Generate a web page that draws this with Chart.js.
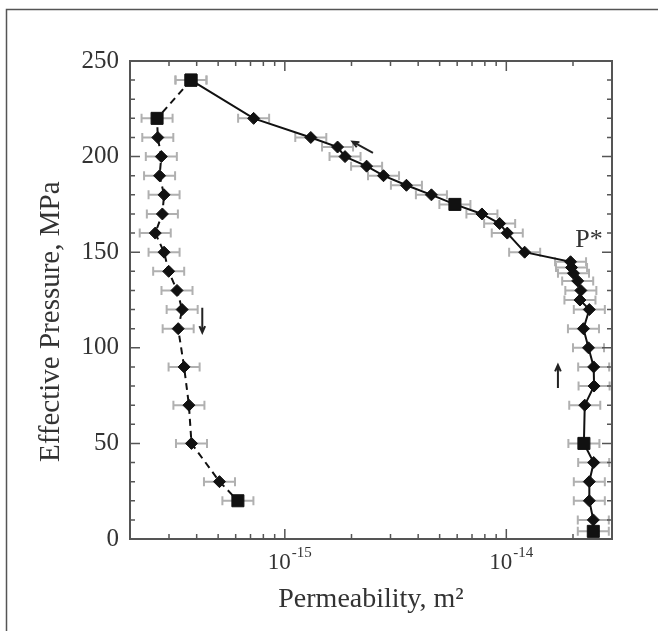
<!DOCTYPE html>
<html>
<head>
<meta charset="utf-8">
<script src="https://cdn.jsdelivr.net/npm/chart.js@4/dist/chart.umd.min.js"></script>
<style>
  body { margin: 0; background: #fff; }
  canvas { display: block; }
</style>
</head>
<body>
<canvas id="permChart" width="658" height="631"></canvas>
<script>
// loading path (solid line), pressure in MPa and permeability in m^2
const loadPressure = [4, 10, 20, 30, 40, 50, 70, 80, 90, 100, 110, 120, 125, 130, 135, 139, 142, 145,
    150, 160, 165, 170, 175, 180, 185, 190, 195, 200, 205, 210, 220, 240];
const loadPerm = [2.47e-14, 2.47e-14, 2.37e-14, 2.37e-14, 2.48e-14, 2.24e-14, 2.26e-14, 2.49e-14, 2.48e-14,
    2.35e-14, 2.23e-14, 2.37e-14, 2.15e-14, 2.17e-14, 2.10e-14, 2.01e-14, 1.97e-14, 1.95e-14,
    1.21e-14, 1.01e-14, 9.33e-15, 7.76e-15, 5.86e-15, 4.59e-15, 3.54e-15, 2.79e-15, 2.34e-15,
    1.87e-15, 1.73e-15, 1.31e-15, 7.23e-16, 3.77e-16];
const loadSquares = [4, 50, 175, 240];

// unloading path (dashed line)
const unloadPressure = [240, 220, 210, 200, 190, 180, 170, 160, 150, 140, 130, 120, 110, 90, 70, 50, 30, 20];
const unloadPerm = [3.77e-16, 2.65e-16, 2.67e-16, 2.77e-16, 2.72e-16, 2.85e-16, 2.80e-16, 2.60e-16, 2.85e-16,
    2.99e-16, 3.26e-16, 3.44e-16, 3.30e-16, 3.51e-16, 3.69e-16, 3.79e-16, 5.07e-16, 6.14e-16];
const unloadSquares = [240, 220, 20];

// error bars are a constant factor on permeability
const errFactor = 1.175;

const yTicks = [0, 50, 100, 150, 200, 250];
const xDecadeLabels = [-15, -14];

const serif = "'Liberation Serif', 'DejaVu Serif', serif";
const textColor = '#333';

function toPoints(pressure, perm) {
    return pressure.map((p, i) => ({ x: perm[i], y: p }));
}

// arrows: [x tail, y tail, x tip, y tip] in data units
const arrows = [
    [4.24e-16, 121, 4.24e-16, 108],
    [1.71e-14, 79, 1.71e-14, 91],
    [2.5e-15, 202, 2.02e-15, 207.8]
];

const decorations = {
    id: 'decorations',
    beforeDraw(chart) {
        const ctx = chart.ctx;
        ctx.save();
        ctx.strokeStyle = '#555';
        ctx.lineWidth = 1.5;
        ctx.strokeRect(6.5, 9.5, 800, 800);
        ctx.restore();
    },
    beforeDatasetsDraw(chart) {
        const { ctx, scales: { x, y } } = chart;
        ctx.save();
        ctx.strokeStyle = '#b0b0b0';
        ctx.lineWidth = 2;
        chart.data.datasets.forEach(ds => {
            ds.data.forEach(pt => {
                const x0 = x.getPixelForValue(pt.x / errFactor);
                const x1 = x.getPixelForValue(pt.x * errFactor);
                const py = y.getPixelForValue(pt.y);
                ctx.beginPath();
                ctx.moveTo(x0, py); ctx.lineTo(x1, py);
                ctx.moveTo(x0, py - 4.5); ctx.lineTo(x0, py + 4.5);
                ctx.moveTo(x1, py - 4.5); ctx.lineTo(x1, py + 4.5);
                ctx.stroke();
            });
        });
        ctx.restore();
    },
    afterDraw(chart) {
        const { ctx, chartArea, scales: { x, y } } = chart;
        const { left, right, top, bottom } = chartArea;
        ctx.save();
        // box
        ctx.strokeStyle = '#555';
        ctx.lineWidth = 2;
        ctx.strokeRect(left, top, right - left, bottom - top);

        // inward ticks
        ctx.lineWidth = 1.5;
        ctx.beginPath();
        for (let v = 0; v <= 250; v += 10) {
            const py = y.getPixelForValue(v);
            const len = v % 50 === 0 ? 10 : 5;
            ctx.moveTo(left, py); ctx.lineTo(left + len, py);
            ctx.moveTo(right, py); ctx.lineTo(right - len, py);
        }
        for (let d = -16; d <= -14; d++) {
            for (let m = 1; m <= 9; m++) {
                const v = m * Math.pow(10, d);
                if (v < x.min * 1.001 || v > x.max * 0.999) continue;
                const px = x.getPixelForValue(v);
                const len = m === 1 ? 10 : 5;
                ctx.moveTo(px, bottom); ctx.lineTo(px, bottom - len);
                ctx.moveTo(px, top); ctx.lineTo(px, top + len);
            }
        }
        ctx.stroke();

        // x tick labels with superscript exponents
        ctx.fillStyle = textColor;
        xDecadeLabels.forEach(e => {
            const px = x.getPixelForValue(Math.pow(10, e));
            ctx.font = '23px ' + serif;
            ctx.textAlign = 'right';
            ctx.textBaseline = 'alphabetic';
            ctx.fillText('10', px + 6, bottom + 30);
            ctx.font = '15px ' + serif;
            ctx.textAlign = 'left';
            ctx.fillText(String(e), px + 7, bottom + 18);
        });

        // P* label
        ctx.font = '26px ' + serif;
        ctx.textAlign = 'left';
        ctx.fillText('P*', x.getPixelForValue(2.05e-14), y.getPixelForValue(152.5));

        // arrows
        ctx.strokeStyle = '#222';
        ctx.lineWidth = 2;
        arrows.forEach(a => {
            const x0 = x.getPixelForValue(a[0]), y0 = y.getPixelForValue(a[1]);
            const x1 = x.getPixelForValue(a[2]), y1 = y.getPixelForValue(a[3]);
            const ang = Math.atan2(y1 - y0, x1 - x0);
            const h = 7;
            ctx.beginPath();
            ctx.moveTo(x0, y0); ctx.lineTo(x1, y1);
            ctx.moveTo(x1 - h * Math.cos(ang - 0.42), y1 - h * Math.sin(ang - 0.42));
            ctx.lineTo(x1, y1);
            ctx.lineTo(x1 - h * Math.cos(ang + 0.42), y1 - h * Math.sin(ang + 0.42));
            ctx.stroke();
        });
        ctx.restore();
    }
};

new Chart(document.getElementById('permChart'), {
    type: 'line',
    data: {
        datasets: [{
            label: 'Loading',
            data: toPoints(loadPressure, loadPerm),
            borderColor: '#111',
            borderWidth: 2,
            backgroundColor: '#111',
            pointStyle: loadPressure.map(p => loadSquares.includes(p) ? 'rect' : 'rectRot'),
            pointRadius: loadPressure.map(p => loadSquares.includes(p) ? 8.5 : 6),
            pointBorderWidth: 1,
            tension: 0
        }, {
            label: 'Unloading',
            data: toPoints(unloadPressure, unloadPerm),
            borderColor: '#111',
            borderWidth: 2,
            borderDash: [7, 5],
            backgroundColor: '#111',
            pointStyle: unloadPressure.map(p => unloadSquares.includes(p) ? 'rect' : 'rectRot'),
            pointRadius: unloadPressure.map(p => unloadSquares.includes(p) ? 8.5 : 6),
            pointBorderWidth: 1,
            tension: 0
        }]
    },
    options: {
        responsive: false,
        animation: false,
        layout: { padding: { left: 0, top: 61, right: 46, bottom: 0 } },
        plugins: { legend: { display: false }, tooltip: { enabled: false } },
        scales: {
            x: {
                type: 'logarithmic',
                min: 2e-16,
                max: 3e-14,
                grid: { display: false, drawTicks: false },
                border: { display: false },
                ticks: { display: false },
                title: {
                    display: true,
                    text: 'Permeability, m²',
                    color: textColor,
                    font: { family: serif, size: 28 },
                    padding: { top: 0, bottom: 15 }
                },
                afterFit(scale) { scale.height = 92; }
            },
            y: {
                type: 'linear',
                min: 0,
                max: 250,
                afterBuildTicks(scale) { scale.ticks = yTicks.map(v => ({ value: v })); },
                grid: { display: false, drawTicks: false },
                border: { display: false },
                ticks: { color: textColor, font: { family: serif, size: 25 }, padding: 11 },
                title: {
                    display: true,
                    // trailing spaces nudge the centred title down, as in the original
                    text: 'Effective Pressure, MPa      ',
                    color: textColor,
                    font: { family: serif, size: 29 },
                    padding: { top: 34, bottom: 0 }
                },
                afterFit(scale) { scale.width = 130; }
            }
        }
    },
    plugins: [decorations]
});
</script>
</body>
</html>
